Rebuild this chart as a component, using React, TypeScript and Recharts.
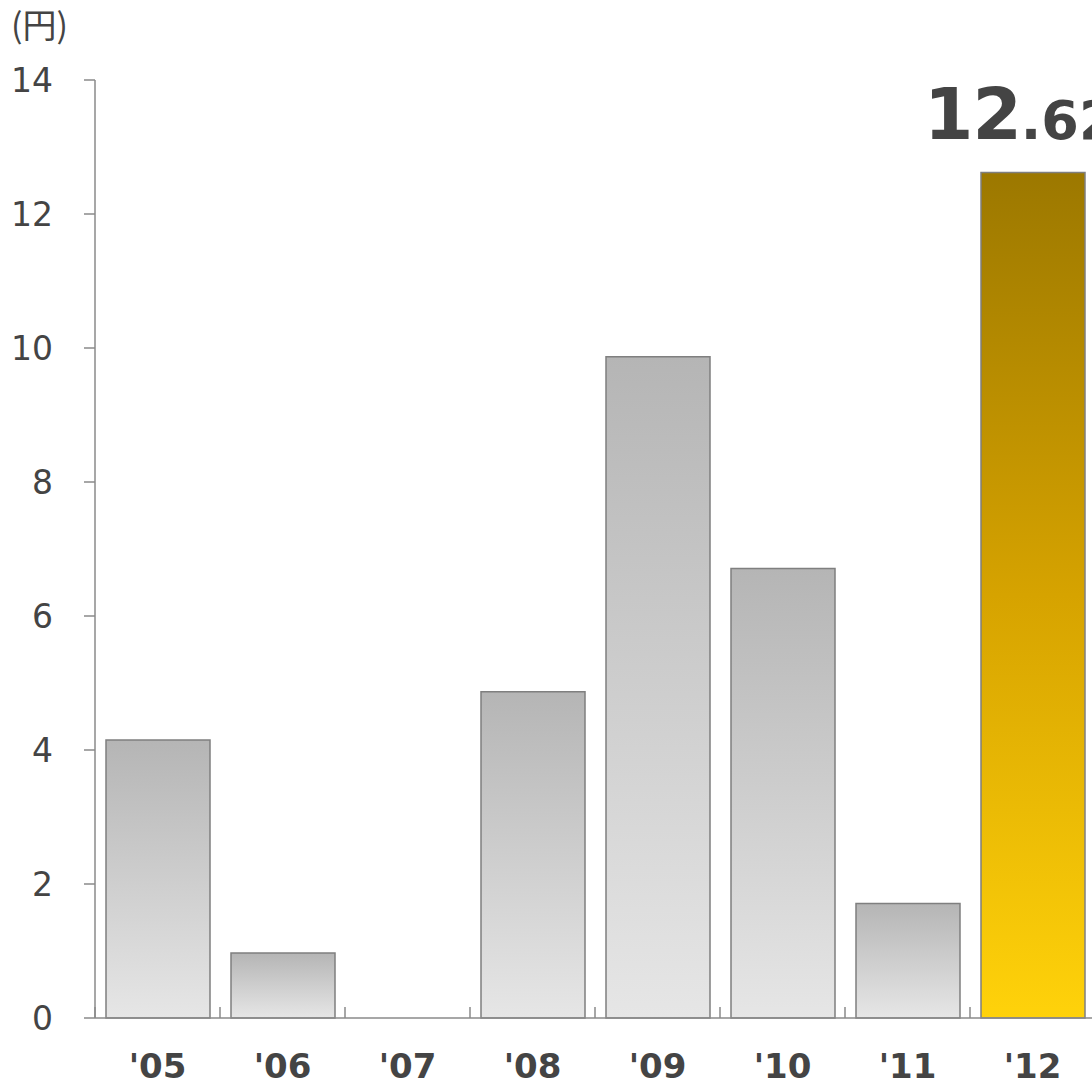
import React from 'react';
import { BarChart, Bar, XAxis, YAxis, Cell, Rectangle } from 'recharts';

const categories = ["'05", "'06", "'07", "'08", "'09", "'10", "'11", "'12"];
const values = [4.15, 0.97, 0, 4.87, 9.87, 6.71, 1.71, 12.62];
const yTicks = [0, 2, 4, 6, 8, 10, 12, 14];
const unitLabel = '(円)';
const highlightIndex = 7;

const data = categories.map((c, i) => ({ name: c, value: values[i] }));

const CHART_W = 1200;
const CHART_H = 1084;
const MARGIN = { top: 80, right: 105, left: 0, bottom: 0 };
const Y_W = 95;
const X_H = 66;
const PLOT_W = CHART_W - MARGIN.right - MARGIN.left - Y_W;
const HALF_BAND = PLOT_W / categories.length / 2;

const AXIS = '#8a8a8a';
const TEXT = '#444444';
const FONT = '"DejaVu Sans", sans-serif';

const XTick = (props: any) => {
  const { x, y, payload } = props;
  return (
    <g>
      <line x1={x - HALF_BAND} x2={x - HALF_BAND} y1={y} y2={y - 11} stroke={AXIS} strokeWidth={1.5} />
      <text x={x} y={y + 60} textAnchor="middle" fontFamily={FONT} fontWeight="bold" fontSize={34} fill={TEXT}>
        {payload.value}
      </text>
    </g>
  );
};

const BarShape = (props: any) => {
  const { x, y, width, height, index, value } = props;
  const v = Array.isArray(value) ? value[1] - value[0] : value;
  const [intPart, decPart] = String(values[index] ?? v).split('.');
  return (
    <g>
      {height > 0 ? (
        <Rectangle x={x} y={y} width={width} height={height} fill={props.fill} stroke={props.stroke} strokeWidth={props.strokeWidth} />
      ) : null}
      {index === highlightIndex ? (
        <text x={x - 57} y={y - 33} textAnchor="start" fontFamily={FONT} fontWeight="bold" fill={TEXT}>
          <tspan fontSize={71} letterSpacing={-1}>{intPart}</tspan>
          <tspan fontSize={54}>{'.' + decPart}</tspan>
        </text>
      ) : null}
    </g>
  );
};

export default function App() {
  return (
    <div style={{ position: 'absolute', left: 0, top: 0, width: 1092, height: 1084, overflow: 'hidden', background: '#fff' }}>
      <div style={{ position: 'absolute', left: 11, top: 7, fontFamily: '"Noto Sans CJK JP", sans-serif', fontSize: 34, lineHeight: '34px', color: TEXT }}>
        {unitLabel}
      </div>
      <BarChart width={CHART_W} height={CHART_H} data={data} margin={MARGIN} barSize={104}>
        <defs>
          <linearGradient id="grayGrad" x1="0" y1="0" x2="0" y2="1">
            <stop offset="0%" stopColor="#b5b5b5" />
            <stop offset="100%" stopColor="#e6e6e6" />
          </linearGradient>
          <linearGradient id="goldGrad" x1="0" y1="0" x2="0" y2="1">
            <stop offset="0%" stopColor="#9c7800" />
            <stop offset="50%" stopColor="#d6a300" />
            <stop offset="100%" stopColor="#ffd20a" />
          </linearGradient>
        </defs>
        <YAxis
          width={Y_W}
          domain={[0, 14]}
          ticks={yTicks}
          interval={0}
          tickSize={11}
          tickMargin={31}
          axisLine={{ stroke: AXIS, strokeWidth: 1.5 }}
          tickLine={{ stroke: AXIS, strokeWidth: 1.5 }}
          tick={{ fill: TEXT, fontSize: 33, fontFamily: FONT }}
        />
        <XAxis
          dataKey="name"
          height={X_H}
          interval={0}
          tickSize={0}
          tickMargin={0}
          tickLine={false}
          axisLine={{ stroke: AXIS, strokeWidth: 1.5 }}
          tick={<XTick />}
        />
        <Bar dataKey="value" isAnimationActive={false} stroke="#7f7f7f" strokeWidth={1.5} shape={<BarShape />}>
          {data.map((d, i) => (
            <Cell key={d.name} fill={i === highlightIndex ? 'url(#goldGrad)' : 'url(#grayGrad)'} />
          ))}
        </Bar>
      </BarChart>
    </div>
  );
}
